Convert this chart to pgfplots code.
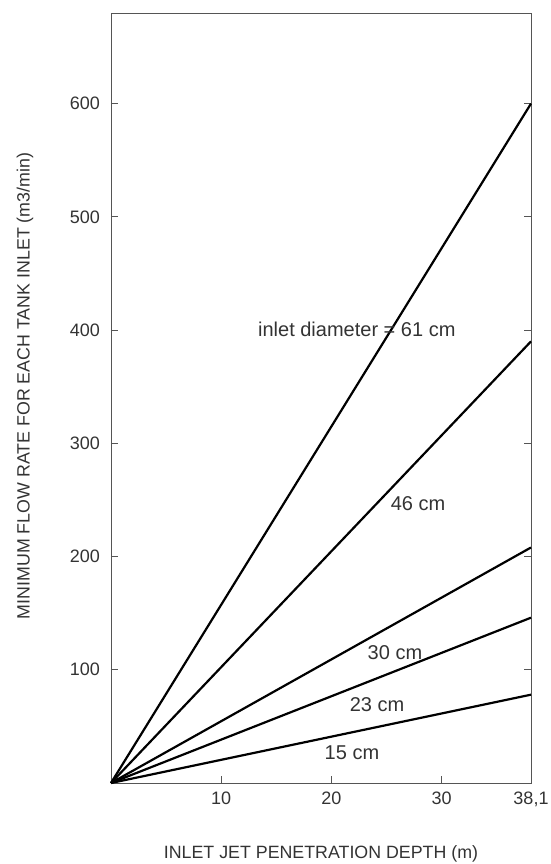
\documentclass[border=0pt]{standalone}
\usepackage{fontspec}
\setmainfont{Liberation Sans}
\usepackage{pgfplots}
\pgfplotsset{compat=1.18}
\definecolor{txt}{HTML}{333333}
\definecolor{frame}{HTML}{555555}
\begin{document}
\begin{tikzpicture}
\useasboundingbox (-111pt,-81pt) rectangle (440pt,783pt);
\begin{axis}[
  at={(0pt,0pt)}, anchor=south west,
  scale only axis, width=420pt, height=770pt,
  xmin=0, xmax=38.1, ymin=0, ymax=680,
  axis line style={frame, line width=0.9pt},
  every tick/.style={frame, line width=0.9pt},
  tick align=inside, major tick length=7pt,
  xtick={10,20,30,38.1}, xticklabels={10,20,30,{38,1}},
  ytick={100,200,300,400,500,600},
  xtick pos=left, ytick pos=both,
  /pgf/number format/assume math mode=true,
  tick label style={font=\fontsize{18}{20}\selectfont, text=txt},
  yticklabel style={anchor=east, inner sep=0pt, xshift=-11pt},
  xticklabel style={anchor=north, inner sep=0pt, yshift=-9pt},
  xlabel={INLET JET PENETRATION DEPTH (m)},
  ylabel={MINIMUM FLOW RATE FOR EACH TANK INLET (m3/min)},
  label style={font=\fontsize{17.8}{20}\selectfont, text=txt, inner sep=0pt},
  xlabel style={at={(axis description cs:0.5,-0.0922)}, anchor=center},
  ylabel style={at={(axis description cs:-0.2048,0.5156)}, anchor=center},
  clip=false,
]
\addplot[black, line width=2.2pt] coordinates {(0,0) (38.1,600)};
\addplot[black, line width=2.2pt] coordinates {(0,0) (38.1,390)};
\addplot[black, line width=2.2pt] coordinates {(0,0) (38.1,208)};
\addplot[black, line width=2.2pt] coordinates {(0,0) (38.1,146)};
\addplot[black, line width=2.2pt] coordinates {(0,0) (38.1,78)};
\begin{scope}[every node/.style={font=\fontsize{20}{22}\selectfont, text=txt, inner sep=0pt}]
\node[anchor=west] at (axis cs:13.33,401) {inlet diameter = 61 cm};
\node at (axis cs:27.85,247) {46 cm};
\node at (axis cs:25.76,114.8) {30 cm};
\node at (axis cs:24.13,68.9) {23 cm};
\node at (axis cs:21.86,26.5) {15 cm};
\end{scope}
\end{axis}
\end{tikzpicture}
\end{document}
